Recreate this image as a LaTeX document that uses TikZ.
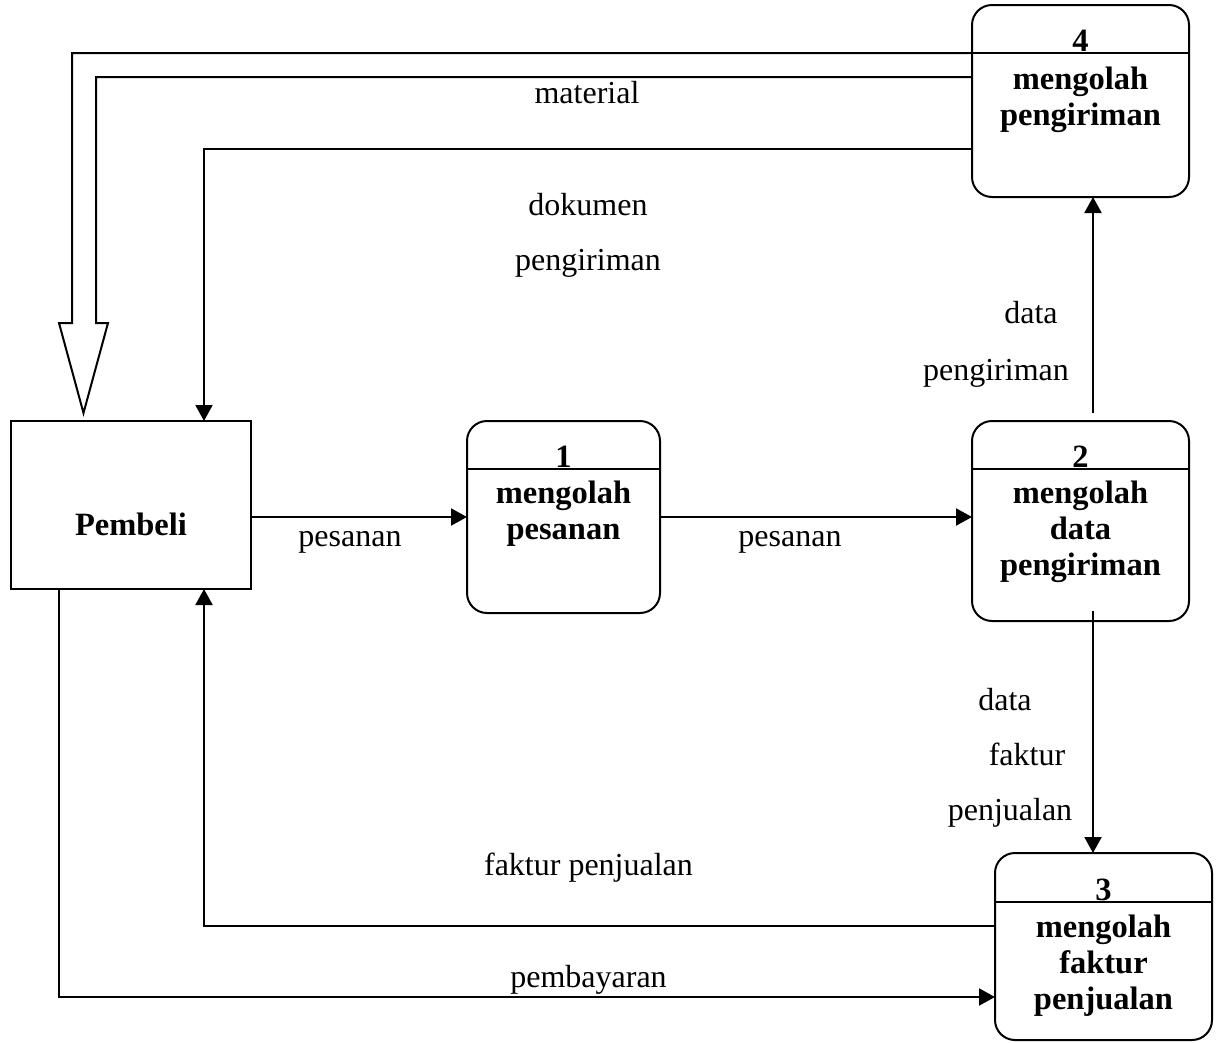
\documentclass[tikz,border=0pt]{standalone}
\usepackage{fontspec}
\setmainfont{Liberation Serif}
\usetikzlibrary{arrows.meta}
\begin{document}
\begin{tikzpicture}[x=1pt,y=-1pt, line width=2pt,
  arr/.style={-{Triangle[length=16pt,width=17pt]}},
  proc/.style={draw, rounded corners=20pt, inner sep=0pt, outer sep=0pt},
  ent/.style={draw, inner sep=0pt, outer sep=0pt},
  lbl/.style={font=\fontsize{32}{38}\selectfont, anchor=base, inner sep=0pt},
  ptxt/.style={font=\fontsize{32.5}{36}\selectfont\bfseries, anchor=base, inner sep=0pt}]
\useasboundingbox (0,0) rectangle (1216,1042);

% entity and processes
\node[ent, minimum width=240pt, minimum height=168pt] (pembeli) at (131,505) {};
\node[ptxt] (tpembeli) at (131,535) {Pembeli};

\node[proc, minimum width=193pt, minimum height=192pt] (p1) at (563.5,517) {};
\node[proc, minimum width=217pt, minimum height=200pt] (p2) at (1080.5,521) {};
\node[proc, minimum width=217pt, minimum height=192pt] (p4) at (1080.5,101) {};
\node[proc, minimum width=217pt, minimum height=187pt] (p3) at (1103.5,946.5) {};

% dividers
\draw ([yshift=-48pt]p1.north west) -- ([yshift=-48pt]p1.north east);
\draw ([yshift=-48pt]p2.north west) -- ([yshift=-48pt]p2.north east);
\draw ([yshift=-48pt]p4.north west) -- ([yshift=-48pt]p4.north east);
\draw ([yshift=-49pt]p3.north west) -- ([yshift=-49pt]p3.north east);

% process texts
\node[ptxt] (n1) at (563.5,467) {1};
\node[ptxt] (n1a) at (563.5,503) {mengolah};
\node[ptxt] (n1b) at (563.5,539) {pesanan};

\node[ptxt] (n2) at (1080.5,467) {2};
\node[ptxt] (n2a) at (1080.5,503) {mengolah};
\node[ptxt] (n2b) at (1080.5,539) {data};
\node[ptxt] (n2c) at (1080.5,575) {pengiriman};

\node[ptxt] (n4) at (1080.5,51) {4};
\node[ptxt] (n4a) at (1080.5,89) {mengolah};
\node[ptxt] (n4b) at (1080.5,125) {pengiriman};

\node[ptxt] (n3) at (1103.5,900) {3};
\node[ptxt] (n3a) at (1103.5,937) {mengolah};
\node[ptxt] (n3b) at (1103.5,973) {faktur};
\node[ptxt] (n3c) at (1103.5,1009) {penjualan};

% connectors
\draw[arr] (pembeli.east |- p1.west) -- (p1.west);
\draw[arr] (p1.east) -- (p1.east -| p2.west);
\draw[arr] ([xshift=12.5pt,yshift=8pt]p2.north) -- ([xshift=12.5pt]p4.south);
\draw[arr] ([xshift=12.5pt,yshift=10pt]p2.south) -- ([xshift=12.5pt]p2.south |- p3.north);
\draw[arr] ([yshift=-144pt]p4.north west) -| ([xshift=193pt]pembeli.north west);
\draw[arr] ([yshift=-73pt]p3.north west) -| ([xshift=193pt]pembeli.south west);
\draw[arr] ([xshift=48pt]pembeli.south west) |- ([yshift=-144pt]p3.north west);

% material (open double arrow)
\draw[line join=miter] ([yshift=-48pt]p4.north west) -- (72,53) -- (72,323) -- (59,323)
  -- (83.5,413) -- (108,323) -- (96,323) -- (96,77) -- ([yshift=-72pt]p4.north west);

% labels
\node[lbl] (lmat) at (587,103) {material};
\node[lbl] (ldok1) at (588,215) {dokumen};
\node[lbl] (ldok2) at (588,270) {pengiriman};
\node[lbl] (lpes1) at (350,546) {pesanan};
\node[lbl] (lpes2) at (790,546) {pesanan};
\node[lbl] (ldp1) at (1031,323) {data};
\node[lbl] (ldp2) at (996,380) {pengiriman};
\node[lbl] (ldf1) at (1005,710) {data};
\node[lbl] (ldf2) at (1027,765) {faktur};
\node[lbl] (ldf3) at (1010,820) {penjualan};
\node[lbl] (lfak) at (588.5,875) {faktur penjualan};
\node[lbl] (lbay) at (588.5,987) {pembayaran};
\end{tikzpicture}
\end{document}
